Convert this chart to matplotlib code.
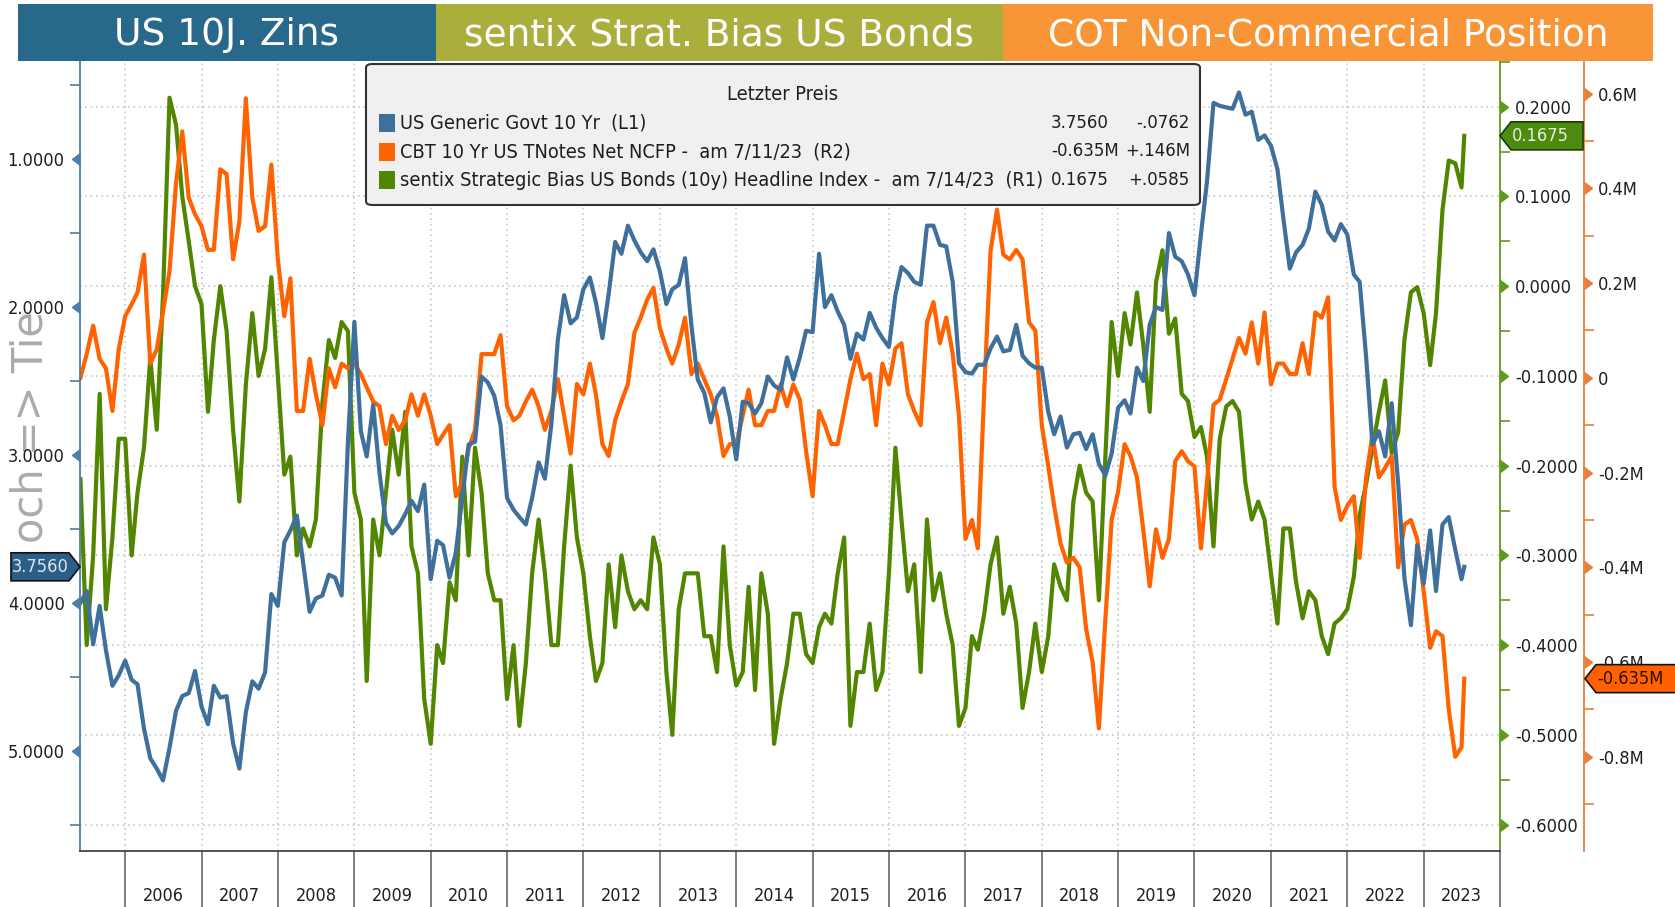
import os
from pathlib import Path

import pandas as pd
import matplotlib
matplotlib.use("Agg")
import matplotlib.pyplot as plt
import matplotlib.dates as mdates
import matplotlib.patches as mpatches
from matplotlib import font_manager
from matplotlib.font_manager import FontProperties
from matplotlib.transforms import IdentityTransform


OUT = Path("out.png")
W, H = 1675, 907

# -----------------------------
# Data (monthly readings, first of month, plus the last print)
# -----------------------------
DATES = list(pd.date_range("2005-06-01", "2023-07-01", freq="MS")) + [pd.Timestamp("2023-07-14")]

YIELD_10Y = [
    4.00, 3.92, 4.28, 4.02, 4.32, 4.56, 4.49,
    4.39, 4.52, 4.55, 4.85, 5.05, 5.12, 5.20, 4.98, 4.73, 4.63, 4.61, 4.46,
    4.70, 4.82, 4.56, 4.64, 4.63, 4.95, 5.12, 4.74, 4.53, 4.58, 4.47, 3.94,
    4.02, 3.59, 3.51, 3.41, 3.73, 4.06, 3.97, 3.95, 3.81, 3.83, 3.95, 2.92,
    2.10, 2.84, 3.01, 2.66, 3.12, 3.46, 3.53, 3.48, 3.40, 3.31, 3.38, 3.20,
    3.84, 3.58, 3.61, 3.83, 3.66, 3.29, 2.93, 2.91, 2.47, 2.51, 2.60, 2.80,
    3.29, 3.37, 3.42, 3.47, 3.29, 3.05, 3.16, 2.79, 2.22, 1.92, 2.11, 2.07,
    1.88, 1.80, 1.97, 2.21, 1.91, 1.56, 1.64, 1.45, 1.55, 1.63, 1.69, 1.61,
    1.76, 1.98, 1.88, 1.85, 1.67, 2.13, 2.49, 2.58, 2.78, 2.61, 2.55, 2.74,
    3.03, 2.64, 2.65, 2.72, 2.65, 2.47, 2.53, 2.56, 2.34, 2.49, 2.34, 2.16,
    2.17, 1.64, 2.00, 1.92, 2.03, 2.12, 2.35, 2.18, 2.22, 2.04, 2.14, 2.21,
    2.27, 1.92, 1.73, 1.77, 1.83, 1.85, 1.45, 1.45, 1.58, 1.59, 1.83, 2.38,
    2.44, 2.45, 2.39, 2.39, 2.28, 2.20, 2.30, 2.29, 2.12, 2.33, 2.38, 2.41,
    2.41, 2.71, 2.86, 2.74, 2.95, 2.86, 2.85, 2.96, 2.86, 3.06, 3.14, 2.99,
    2.68, 2.63, 2.72, 2.41, 2.50, 2.12, 2.00, 2.02, 1.50, 1.66, 1.69, 1.78,
    1.92, 1.51, 1.15, 0.62, 0.64, 0.65, 0.66, 0.55, 0.70, 0.68, 0.87, 0.84,
    0.91, 1.07, 1.40, 1.74, 1.63, 1.58, 1.47, 1.22, 1.31, 1.49, 1.55, 1.44,
    1.51, 1.78, 1.83, 2.34, 2.93, 2.84, 3.01, 2.65, 3.19, 3.83, 4.15, 3.61,
    3.87, 3.51, 3.92, 3.47, 3.42, 3.64, 3.84,
    3.756,
]

# net non-commercial position, millions of contracts
TNOTE_NCFP = [
    0.00, 0.05, 0.11, 0.04, 0.02, -0.07, 0.06,
    0.13, 0.155, 0.18, 0.26, 0.03, 0.06, 0.14, 0.225, 0.41, 0.52, 0.38, 0.345,
    0.32, 0.27, 0.27, 0.44, 0.43, 0.25, 0.33, 0.59, 0.38, 0.31, 0.32, 0.45,
    0.25, 0.13, 0.21, -0.07, -0.07, 0.04, -0.035, -0.10, 0.02, -0.02, 0.03, 0.02,
    0.03, 0.008, -0.02, -0.05, -0.06, -0.14, -0.08, -0.11, -0.09, -0.035, -0.08, -0.035,
    -0.08, -0.14, -0.12, -0.10, -0.25, -0.22, -0.15, -0.11, 0.05, 0.05, 0.05, 0.09,
    -0.06, -0.09, -0.08, -0.05, -0.025, -0.06, -0.11, -0.07, -0.003, -0.08, -0.16, -0.013,
    -0.035, 0.03, -0.035, -0.14, -0.165, -0.09, -0.05, -0.013, 0.095, 0.127, 0.165, 0.19,
    0.105, 0.062, 0.03, 0.07, 0.127, 0.008, 0.03, -0.003, -0.035, -0.08, -0.165, -0.14,
    -0.14, -0.08, -0.025, -0.10, -0.10, -0.07, -0.07, -0.014, -0.06, -0.014, -0.046, -0.155,
    -0.25, -0.07, -0.10, -0.14, -0.14, -0.07, -0.003, 0.051, -0.003, 0.008, -0.10, 0.03,
    -0.014, 0.062, 0.073, -0.035, -0.07, -0.10, 0.117, 0.16, 0.073, 0.127, 0.051, -0.08,
    -0.34, -0.30, -0.36, -0.025, 0.268, 0.355, 0.26, 0.25, 0.27, 0.25, 0.117, 0.10,
    -0.10, -0.187, -0.27, -0.35, -0.39, -0.38, -0.40, -0.53, -0.60, -0.74, -0.51, -0.30,
    -0.24, -0.14, -0.165, -0.21, -0.32, -0.44, -0.32, -0.38, -0.34, -0.176, -0.155, -0.176,
    -0.187, -0.36, -0.22, -0.057, -0.046, -0.003, 0.04, 0.084, 0.051, 0.117, 0.03, 0.138,
    -0.014, 0.03, 0.03, 0.008, 0.008, 0.073, 0.008, 0.138, 0.127, 0.17, -0.23, -0.30,
    -0.27, -0.25, -0.38, -0.21, -0.12, -0.21, -0.19, -0.165, -0.40, -0.31, -0.30, -0.34,
    -0.45, -0.57, -0.535, -0.545, -0.70, -0.80, -0.78,
    -0.635,
]

SENTIX_BIAS = [
    -0.215, -0.40, -0.30, -0.12, -0.36, -0.28, -0.17,
    -0.17, -0.30, -0.23, -0.18, -0.08, -0.16, -0.01, 0.21, 0.18, 0.10, 0.05, 0.00,
    -0.02, -0.14, -0.06, 0.00, -0.05, -0.16, -0.24, -0.11, -0.03, -0.10, -0.07, 0.01,
    -0.10, -0.21, -0.19, -0.30, -0.27, -0.29, -0.26, -0.13, -0.06, -0.08, -0.04, -0.05,
    -0.23, -0.26, -0.44, -0.26, -0.30, -0.23, -0.16, -0.21, -0.14, -0.29, -0.32, -0.46,
    -0.51, -0.40, -0.42, -0.33, -0.35, -0.19, -0.30, -0.18, -0.23, -0.32, -0.35, -0.35,
    -0.46, -0.40, -0.49, -0.42, -0.32, -0.26, -0.32, -0.40, -0.40, -0.29, -0.20, -0.28,
    -0.32, -0.39, -0.44, -0.42, -0.31, -0.38, -0.30, -0.34, -0.36, -0.35, -0.36, -0.28,
    -0.31, -0.43, -0.50, -0.36, -0.32, -0.32, -0.32, -0.39, -0.39, -0.43, -0.29, -0.40,
    -0.445, -0.43, -0.335, -0.45, -0.32, -0.365, -0.51, -0.46, -0.42, -0.365, -0.365, -0.41,
    -0.42, -0.38, -0.365, -0.376, -0.32, -0.28, -0.49, -0.43, -0.43, -0.376, -0.45, -0.43,
    -0.32, -0.18, -0.26, -0.34, -0.31, -0.43, -0.26, -0.35, -0.32, -0.365, -0.40, -0.49,
    -0.47, -0.39, -0.405, -0.365, -0.31, -0.28, -0.365, -0.335, -0.376, -0.47, -0.43, -0.376,
    -0.43, -0.39, -0.31, -0.335, -0.35, -0.24, -0.20, -0.23, -0.24, -0.35, -0.19, -0.04,
    -0.10, -0.03, -0.065, -0.007, -0.065, -0.14, 0.004, 0.04, -0.053, -0.036, -0.12, -0.128,
    -0.168, -0.157, -0.19, -0.29, -0.17, -0.134, -0.128, -0.14, -0.22, -0.26, -0.24, -0.26,
    -0.32, -0.376, -0.27, -0.27, -0.33, -0.37, -0.34, -0.35, -0.39, -0.41, -0.376, -0.37,
    -0.36, -0.324, -0.255, -0.22, -0.18, -0.14, -0.105, -0.186, -0.163, -0.06, -0.007, -0.001,
    -0.03, -0.088, -0.03, 0.085, 0.14, 0.137, 0.11,
    0.1675,
]

YIELD_TICKS = [1, 2, 3, 4, 5]
SENTIX_TICKS = [0.2, 0.1, 0.0, -0.1, -0.2, -0.3, -0.4, -0.5, -0.6]
NCFP_TICKS = [0.6, 0.4, 0.2, 0.0, -0.2, -0.4, -0.6, -0.8]
NCFP_LABELS = ["0.6M", "0.4M", "0.2M", "0", "-0.2M", "-0.4M", "-0.6M", "-0.8M"]
YEARS = list(range(2006, 2024))

HEADERS = ["US 10J. Zins", "sentix Strat. Bias US Bonds", "COT Non-Commercial Position"]
LEGEND_TITLE = "Letzter Preis"
LEGEND_NAMES = [
    "US Generic Govt 10 Yr  (L1)",
    "CBT 10 Yr US TNotes Net NCFP -  am 7/11/23  (R2)",
    "sentix Strategic Bias US Bonds (10y) Headline Index -  am 7/14/23  (R1)",
]
LEGEND_LAST = ["3.7560", "-0.635M", "0.1675"]
LEGEND_CHANGE = ["-.0762", "+.146M", "+.0585"]

# -----------------------------
# Style
# -----------------------------
BLUE = "#3F709C"
ORANGE = "#FF6200"
GREEN = "#528500"
HEAD_COLORS = ["#28688A", "#A9AE3C", "#F79537"]
BLUE_SPINE = "#4E7EA8"
GREEN_SPINE = "#5E9A1A"
ORANGE_SPINE = "#E8803A"
GRID = "#BDBDBD"
TXT = "#1E1E1E"
LW = 3.0


def pick_narrow_font():
    """A condensed face if one is installed, else None (Roboto is used)."""
    fonts = font_manager.fontManager.ttflist
    for f in fonts:
        if f.name == "Liberation Sans Narrow" and f.weight in (400, "normal") and f.style == "normal":
            return f.fname
    for f in fonts:
        fn = os.path.basename(f.fname).lower()
        if ("condensed" in fn or "narrow" in fn) and not any(
                k in fn for k in ("bold", "oblique", "italic", "light", "thin", "black", "medium", "semi")):
            return f.fname
    return None


NARROW_FILE = pick_narrow_font()


def narrow(size):
    if NARROW_FILE:
        return FontProperties(fname=NARROW_FILE, size=size)
    return FontProperties(family=["Roboto", "DejaVu Sans"], size=size)


def fit_size(fig, text, target_px, max_size):
    """Largest size (<= max_size) for which text is about target_px wide."""
    t = fig.text(0, 0, text, fontproperties=narrow(max_size))
    width = t.get_window_extent(fig.canvas.get_renderer()).width
    t.remove()
    return min(max_size, max_size * target_px / width)


def fx(x):
    return x / W


def fy(y):
    return 1 - y / H


def setup_axes(fig):
    left, right, top, bottom = 80, 1500, 61, 851
    ax_y = fig.add_axes([fx(left), fy(bottom), (right - left) / W, (bottom - top) / H])
    ax_g = ax_y.twinx()
    ax_o = ax_y.twinx()
    ax_g.set_zorder(1)
    ax_o.set_zorder(2)
    ax_y.set_zorder(3)
    for a in (ax_y, ax_g, ax_o):
        a.patch.set_visible(False)
        for s in a.spines.values():
            s.set_visible(False)
    ax_y.spines["left"].set_visible(True)
    ax_y.spines["left"].set_color(BLUE_SPINE)
    ax_y.spines["left"].set_linewidth(1.3)
    ax_y.spines["bottom"].set_visible(True)
    ax_y.spines["bottom"].set_color("#444444")
    ax_y.spines["bottom"].set_linewidth(1.3)
    ax_g.spines["right"].set_visible(True)
    ax_g.spines["right"].set_color(GREEN_SPINE)
    ax_g.spines["right"].set_linewidth(1.3)
    ax_o.spines["right"].set_visible(True)
    ax_o.spines["right"].set_color(ORANGE_SPINE)
    ax_o.spines["right"].set_linewidth(1.3)
    ax_o.spines["right"].set_position(("axes", (1584 - left) / (right - left)))
    return ax_y, ax_g, ax_o


def carets(ax, ticks, xpos, marker, color):
    ax.plot([xpos] * len(ticks), ticks, ls="none", marker=marker, ms=8,
            color=color, transform=ax.get_yaxis_transform(), clip_on=False)


def value_tag(fig, tip_x, y, body_x, text, face, text_color, edge, fp):
    h = 14
    if body_x < tip_x:
        pts = [(body_x, y - h), (tip_x - 11, y - h), (tip_x, y), (tip_x - 11, y + h), (body_x, y + h)]
    else:
        pts = [(tip_x, y), (tip_x + 11, y + h), (body_x, y + h), (body_x, y - h), (tip_x + 11, y - h)]
    poly = mpatches.Polygon(pts, closed=True, facecolor=face, edgecolor=edge, lw=1.2,
                            transform=IdentityTransform(), zorder=6)
    fig.add_artist(poly)
    if body_x < tip_x:
        fig.text((body_x + tip_x - 11) / 2, y, text, transform=IdentityTransform(), ha="center",
                 va="center", fontproperties=fp, color=text_color, zorder=7)
    else:
        fig.text(tip_x + 12, y, text, transform=IdentityTransform(), ha="left", va="center",
                 fontproperties=fp, color=text_color, zorder=7)


def main():
    fig = plt.figure(figsize=(W / 100, H / 100), dpi=100, facecolor="white")
    fig.canvas.draw()

    # sizes fitted to the widths seen in the reference
    legend_size = fit_size(fig, LEGEND_NAMES[2], 646, 16)
    tick_size = fit_size(fig, "0.2000", 57, 16.5)
    year_size = fit_size(fig, "2006", 41, 17)

    ax_y, ax_g, ax_o = setup_axes(fig)

    dates = pd.to_datetime(DATES)
    ax_g.plot(dates, SENTIX_BIAS, color=GREEN, lw=LW, solid_joinstyle="round")
    ax_o.plot(dates, TNOTE_NCFP, color=ORANGE, lw=LW, solid_joinstyle="round")
    ax_y.plot(dates, YIELD_10Y, color=BLUE, lw=LW, solid_joinstyle="round")

    # grid (dotted) lives on the green axis
    ax_g.set_yticks(SENTIX_TICKS)
    ax_g.yaxis.grid(True, ls=(0, (1, 2.5)), color=GRID, lw=1.1)
    for yr in YEARS:
        ax_g.axvline(pd.Timestamp(f"{yr}-01-01"), ls=(0, (1, 2.5)), color=GRID, lw=1.1, zorder=0)

    # left axis: yield, inverted
    ax_y.set_yticks(YIELD_TICKS)
    ax_y.set_yticklabels([f"{v:.4f}" for v in YIELD_TICKS])
    ax_y.set_yticks([v + 0.5 for v in range(0, 6)], minor=True)
    ax_y.tick_params(axis="y", which="major", length=0, pad=11, labelcolor=TXT)
    ax_y.tick_params(axis="y", which="minor", length=7, width=1.2, color=BLUE_SPINE)

    # green axis
    ax_g.set_yticklabels([f"{v:.4f}" for v in SENTIX_TICKS])
    ax_g.set_yticks([round(v - 0.05, 2) for v in SENTIX_TICKS] + [0.25], minor=True)
    ax_g.tick_params(axis="y", which="major", length=0, pad=11, labelcolor=TXT)
    ax_g.tick_params(axis="y", which="minor", length=7, width=1.2, color=GREEN_SPINE)

    # orange axis
    ax_o.set_yticks(NCFP_TICKS)
    ax_o.set_yticklabels(NCFP_LABELS)
    ax_o.set_yticks([round(v - 0.1, 2) for v in NCFP_TICKS], minor=True)
    ax_o.tick_params(axis="y", which="major", length=0, pad=10, labelcolor=TXT)
    ax_o.tick_params(axis="y", which="minor", length=7, width=1.2, color=ORANGE_SPINE)

    for a in (ax_y, ax_g, ax_o):
        for lab in a.get_yticklabels():
            lab.set_fontproperties(narrow(tick_size))

    # x axis: long ticks at year boundaries, labels mid-year
    bounds = [mdates.date2num(pd.Timestamp(f"{y}-01-01")) for y in YEARS + [2024]]
    mids = [mdates.date2num(pd.Timestamp(f"{y}-07-02")) for y in YEARS]
    ax_y.set_xticks(bounds)
    ax_y.set_xticklabels([])
    ax_y.set_xticks(mids, minor=True)
    ax_y.set_xticklabels([str(y) for y in YEARS], minor=True, fontproperties=narrow(year_size))
    ax_y.tick_params(axis="x", which="major", length=42, width=1.2, color="#666666")
    ax_y.tick_params(axis="x", which="minor", length=0, pad=26, labelcolor=TXT)

    carets(ax_y, YIELD_TICKS, 0, 8, BLUE_SPINE)
    carets(ax_g, SENTIX_TICKS, 1, 9, GREEN_SPINE)
    carets(ax_o, NCFP_TICKS, (1584 - 80) / 1420, 9, ORANGE_SPINE)

    # limits (set last)
    ax_y.set_xlim(pd.Timestamp("2005-05-30"), pd.Timestamp("2024-01-01"))
    ax_y.set_ylim(5.677, 0.337)
    ax_g.set_ylim(-0.6294, 0.2509)
    ax_o.set_ylim(-0.9988, 0.6687)

    # header bar
    edges = [18, 436, 1003, 1653]
    for i, label in enumerate(HEADERS):
        fig.add_artist(mpatches.Rectangle((fx(edges[i]), fy(61)), (edges[i + 1] - edges[i]) / W,
                                          57 / H, transform=fig.transFigure,
                                          facecolor=HEAD_COLORS[i], edgecolor="none", zorder=5))
        fig.text(fx((edges[i] + edges[i + 1]) / 2), fy(35), label, ha="center", va="center",
                 fontsize=27, color="white", family="DejaVu Sans", zorder=6)

    # faded axis caption on the left
    fig.text(fx(31), fy(427), "och => Tie", rotation=90, ha="center", va="center",
             fontsize=30, color="#ABABAB", family="DejaVu Sans", zorder=0.5)

    # legend box
    fig.add_artist(mpatches.FancyBboxPatch((fx(366), fy(205)), (1200 - 366) / W, (205 - 64) / H,
                                           boxstyle="round,pad=0,rounding_size=0.004",
                                           transform=fig.transFigure, facecolor="#F0F0F0",
                                           edgecolor="#333333", lw=1.5, zorder=5))
    lfp = narrow(legend_size)
    nfp = narrow(legend_size * 0.93)
    fig.text(fx(783), fy(94), LEGEND_TITLE, ha="center", va="center", fontproperties=lfp,
             color=TXT, zorder=6)
    for i, colour in enumerate([BLUE, ORANGE, GREEN]):
        yrow = 123 + i * 28.5
        fig.add_artist(mpatches.Rectangle((fx(379), fy(yrow + 9)), 16 / W, 18 / H,
                                          transform=fig.transFigure, facecolor=colour,
                                          edgecolor="none", zorder=6))
        fig.text(fx(400), fy(yrow), LEGEND_NAMES[i], ha="left", va="center", fontproperties=lfp,
                 color=TXT, zorder=6)
        fig.text(fx(1051), fy(yrow), LEGEND_LAST[i], ha="left", va="center", fontproperties=nfp,
                 color=TXT, zorder=6)
        fig.text(fx(1190), fy(yrow), LEGEND_CHANGE[i], ha="right", va="center", fontproperties=nfp,
                 color=TXT, zorder=6)

    # last-value tags on the axes
    fig.canvas.draw()
    y_blue = ax_y.transData.transform((0, YIELD_10Y[-1]))[1]
    y_green = ax_g.transData.transform((0, SENTIX_BIAS[-1]))[1]
    y_orange = ax_o.transData.transform((0, TNOTE_NCFP[-1]))[1]
    tfp = narrow(tick_size)
    value_tag(fig, 80, y_blue, 11, f"{YIELD_10Y[-1]:.4f}", "#2D5E88", "#DDE6EE", "#111111", tfp)
    value_tag(fig, 1500, y_green, 1583, f"{SENTIX_BIAS[-1]:.4f}", "#4C8A10", "#E8F0DA", "#1E3A00", tfp)
    value_tag(fig, 1585, y_orange, 1690, f"{TNOTE_NCFP[-1]:.3f}M", "#FF6000", "#2A1000", "#111111", tfp)

    fig.savefig(OUT, dpi=100, facecolor="white")
    plt.close(fig)


if __name__ == "__main__":
    main()
